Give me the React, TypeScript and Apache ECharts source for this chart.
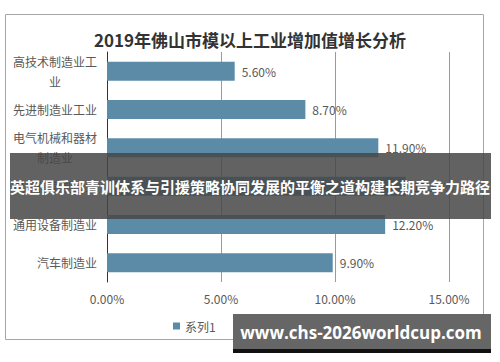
import React, { useEffect, useRef } from "react";
import * as echarts from "echarts";

const title = "2019年佛山市模以上工业增加值增长分析";
const categories = [
  "高技术制造业工\n业",
  "先进制造业工业",
  "电气机械和器材\n制造业",
  "电子信息制造业",
  "通用设备制造业",
  "汽车制造业",
];
const values = [5.6, 8.7, 11.9, 13.1, 12.2, 9.9];
const seriesName = "系列1";
const bannerText = "英超俱乐部青训体系与引援策略协同发展的平衡之道构建长期竞争力路径";
const watermark = "www.chs-2026worldcup.com";

const BAR = "#5b8ba7";
const FONT = "'Noto Sans CJK SC', 'Noto Sans', sans-serif";

export default function App() {
  const ref = useRef<HTMLDivElement>(null);
  useEffect(() => {
    if (!ref.current) return;
    const chart = echarts.init(ref.current, null, { renderer: "svg" });
    chart.setOption({
      animation: false,
      backgroundColor: "#fff",
      textStyle: { fontFamily: FONT },
      title: {
        text: title,
        left: 245,
        textAlign: "center",
        top: 26,
        textStyle: { fontSize: 17, fontWeight: "bold", color: "#333", fontFamily: FONT },
      },
      legend: {
        data: [seriesName],
        left: 168,
        top: 315,
        icon: "rect",
        itemWidth: 7,
        itemHeight: 7,
        itemGap: 4,
        textStyle: { fontSize: 12, color: "#595959", fontFamily: FONT },
      },
      grid: { left: 107, right: 51, top: 52, bottom: 80 },
      xAxis: {
        type: "value",
        min: 0,
        max: 15,
        interval: 5,
        axisLine: { show: false },
        axisTick: { show: false },
        splitLine: { show: true, lineStyle: { color: "#9a9a9a", width: 1 } },
        axisLabel: {
          formatter: (v: number) => v.toFixed(2) + "%",
          color: "#595959",
          fontSize: 12,
          margin: 10,
          fontFamily: FONT,
        },
      },
      yAxis: {
        type: "category",
        data: categories,
        inverse: true,
        axisLine: { show: true, lineStyle: { color: "#333", width: 1 } },
        axisTick: { show: false },
        axisLabel: {
          color: "#595959",
          fontSize: 12,
          margin: 10,
          lineHeight: 20,
          fontFamily: FONT,
          formatter: (v: string) => {
            if (v.indexOf("\n") >= 0) {
              const [a, b] = v.split("\n");
              return "{c|" + a + "}\n{c|" + b + "}";
            }
            return v;
          },
          rich: {
            c: { width: 84, align: "center", fontSize: 12, color: "#595959", lineHeight: 20, fontFamily: FONT },
          },
        },
      },
      series: [
        {
          name: seriesName,
          type: "bar",
          data: values,
          barWidth: 19,
          itemStyle: { color: BAR },
          label: {
            show: true,
            position: "right",
            distance: 7,
            formatter: (p: any) => p.value.toFixed(2) + "%",
            color: "#595959",
            fontSize: 12,
            fontFamily: FONT,
          },
        },
      ],
      graphic: [
        {
          type: "rect",
          shape: { x: 5.5, y: 14.5, width: 478, height: 325 },
          style: { fill: "none", stroke: "#a6a6a6", lineWidth: 1 },
          z: 10,
        },
        {
          type: "rect",
          shape: { x: 10, y: 153, width: 481, height: 66 },
          style: { fill: "rgba(70,70,70,0.85)" },
          z: 100,
        },
        {
          type: "text",
          x: 250,
          y: 186,
          style: {
            text: bannerText,
            fill: "#fff",
            fontSize: 15,
            fontWeight: "bold",
            fontFamily: FONT,
            align: "center",
            verticalAlign: "middle",
          },
          z: 101,
        },
        {
          type: "rect",
          shape: { x: 233, y: 314, width: 258, height: 35 },
          style: { fill: "#666" },
          z: 100,
        },
        {
          type: "rect",
          shape: { x: 233, y: 349, width: 258, height: 4 },
          style: { fill: "#111" },
          z: 100,
        },
        {
          type: "text",
          x: 361,
          y: 332,
          style: {
            text: watermark,
            fill: "#fff",
            fontSize: 17,
            fontWeight: "bold",
            fontFamily: "'Open Sans', 'DejaVu Sans', sans-serif",
            align: "center",
            verticalAlign: "middle",
          },
          z: 101,
        },
      ],
    });
    return () => chart.dispose();
  }, []);
  return (
    <div
      ref={ref}
      style={{ position: "fixed", left: 0, top: 0, width: 500, height: 362 }}
    />
  );
}
